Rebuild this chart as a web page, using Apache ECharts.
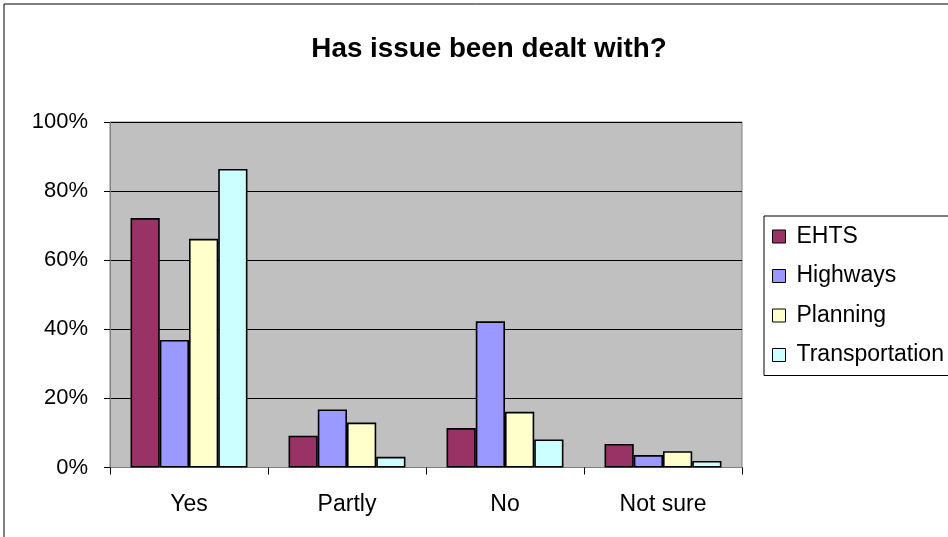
<!DOCTYPE html>
<html><head><meta charset="utf-8">
<script src="https://cdn.jsdelivr.net/npm/echarts@6/dist/echarts.min.js"></script>
<style>html,body{margin:0;padding:0;background:#fff}#c{width:948px;height:537px}</style>
</head><body><div id="c"></div>
<script>
const categories = ['Yes', 'Partly', 'No', 'Not sure'];
const seriesNames = ['EHTS', 'Highways', 'Planning', 'Transportation'];
const ehts = [72.2, 9.2, 11.4, 6.8];
const highways = [36.9, 16.8, 42.3, 3.6];
const planning = [66.2, 13.0, 16.1, 4.7];
const transportation = [86.4, 3.1, 8.1, 1.9];
const colors = ['#993366', '#9999FF', '#FFFFCC', '#CCFFFF'];
const yTicks = [0, 20, 40, 60, 80, 100];

const values = [ehts, highways, planning, transportation];
const font = 'Liberation Sans, Arial, sans-serif';
const chart = echarts.init(document.getElementById('c'), null, {renderer: 'canvas'});
chart.setOption({
  animation: false,
  title: {text: 'Has issue been dealt with?', left: 484, top: 30, textAlign: 'center',
    textStyle: {fontFamily: font, fontWeight: 'bold', fontSize: 27.8, lineHeight: 28, color: '#000'}},
  graphic: [{type: 'rect', shape: {x: 4, y: 4, width: 1000, height: 600}, style: {fill: 'none', stroke: '#000', lineWidth: 1}, silent: true, z: 100}],
  grid: {left: 110, top: 122, width: 632, height: 345.5, show: true, backgroundColor: '#C0C0C0', borderColor: '#808080', borderWidth: 1},
  legend: {orient: 'vertical', left: 764, top: 216, data: seriesNames,
    padding: [9, 40, 9, 8], itemGap: 16.5, itemWidth: 13, itemHeight: 13, icon: 'rect',
    borderColor: '#000', borderWidth: 1, backgroundColor: '#fff',
    itemStyle: {borderColor: '#000', borderWidth: 1},
    textStyle: {fontFamily: font, fontSize: 23, lineHeight: 23, color: '#000', padding: [0, 0, 0, 6]}},
  xAxis: {type: 'category', data: categories,
    axisLine: {lineStyle: {color: '#808080', width: 1}},
    axisTick: {show: true, alignWithLabel: false, length: 7, lineStyle: {color: '#000'}},
    axisLabel: {fontFamily: font, fontSize: 23, color: '#000', margin: 26}},
  yAxis: {type: 'value', min: yTicks[0], max: yTicks[yTicks.length - 1], interval: 20,
    axisLine: {show: true, lineStyle: {color: '#808080'}},
    axisTick: {show: true, length: 6, lineStyle: {color: '#000'}},
    splitLine: {lineStyle: {color: '#000', width: 1}},
    axisLabel: {fontFamily: font, fontSize: 22, color: '#000', margin: 22, formatter: '{value}%'}},
  series: seriesNames.map((n, i) => ({
    name: n, type: 'bar', data: values[i], barGap: '0%', barCategoryGap: '26%',
    itemStyle: {color: colors[i], borderColor: '#000', borderWidth: 1.6}
  }))
});
</script></body></html>
